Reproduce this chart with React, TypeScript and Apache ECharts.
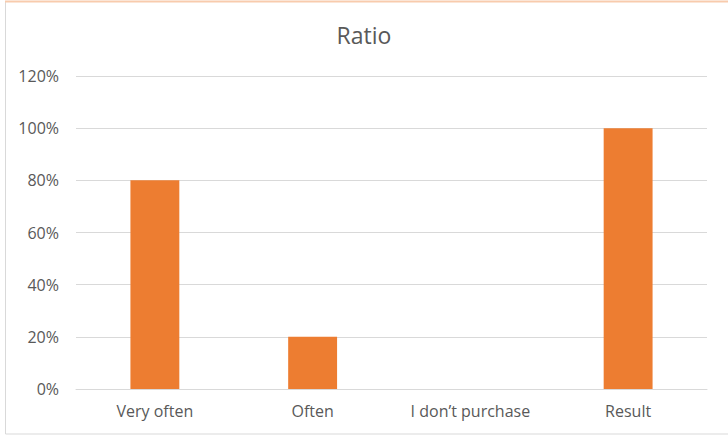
import React, { useEffect, useRef } from "react";
import * as echarts from "echarts";

const categories = ["Very often", "Often", "I don’t purchase", "Result"];
const ratioValues = [80, 20, 0, 100];
const yTicks = [0, 20, 40, 60, 80, 100, 120];

export default function App() {
  const ref = useRef<HTMLDivElement>(null);
  useEffect(() => {
    document.body.style.margin = "0";
    const chart = echarts.init(ref.current!, null, { renderer: "svg" });
    chart.setOption({
      animation: false,
      backgroundColor: "#ffffff",
      textStyle: { fontFamily: "Open Sans" },
      title: {
        text: "Ratio",
        left: "center",
        top: 18,
        textStyle: { fontSize: 23, fontWeight: "normal", color: "#595959", fontFamily: "Open Sans" },
      },
      graphic: [
        {
          type: "rect",
          shape: { x: 5.5, y: 1.5, width: 740, height: 432.5 },
          style: { fill: "none", stroke: "#d9d9d9", lineWidth: 1 },
          silent: true,
        },
        {
          type: "line",
          shape: { x1: 5, y1: 1.5, x2: 728, y2: 1.5 },
          style: { stroke: "#f8cbad", lineWidth: 2 },
          silent: true,
        },
      ],
      grid: { left: 76, right: 21, top: 76, bottom: 47, containLabel: false },
      xAxis: {
        type: "category",
        data: categories,
        axisTick: { show: false },
        axisLine: { lineStyle: { color: "#d9d9d9" } },
        axisLabel: { color: "#595959", fontSize: 16, margin: 14, fontFamily: "Open Sans" },
      },
      yAxis: {
        type: "value",
        min: yTicks[0],
        max: yTicks[yTicks.length - 1],
        interval: 20,
        axisLine: { show: false },
        axisTick: { show: false },
        splitLine: { lineStyle: { color: "#d9d9d9" } },
        axisLabel: { color: "#595959", fontSize: 16, margin: 17, formatter: "{value}%", fontFamily: "Open Sans" },
      },
      series: [
        {
          type: "bar",
          data: ratioValues,
          barWidth: "31%",
          itemStyle: { color: "#ed7d31" },
        },
      ],
    });
    return () => chart.dispose();
  }, []);
  return <div ref={ref} style={{ width: 728, height: 436 }} />;
}
